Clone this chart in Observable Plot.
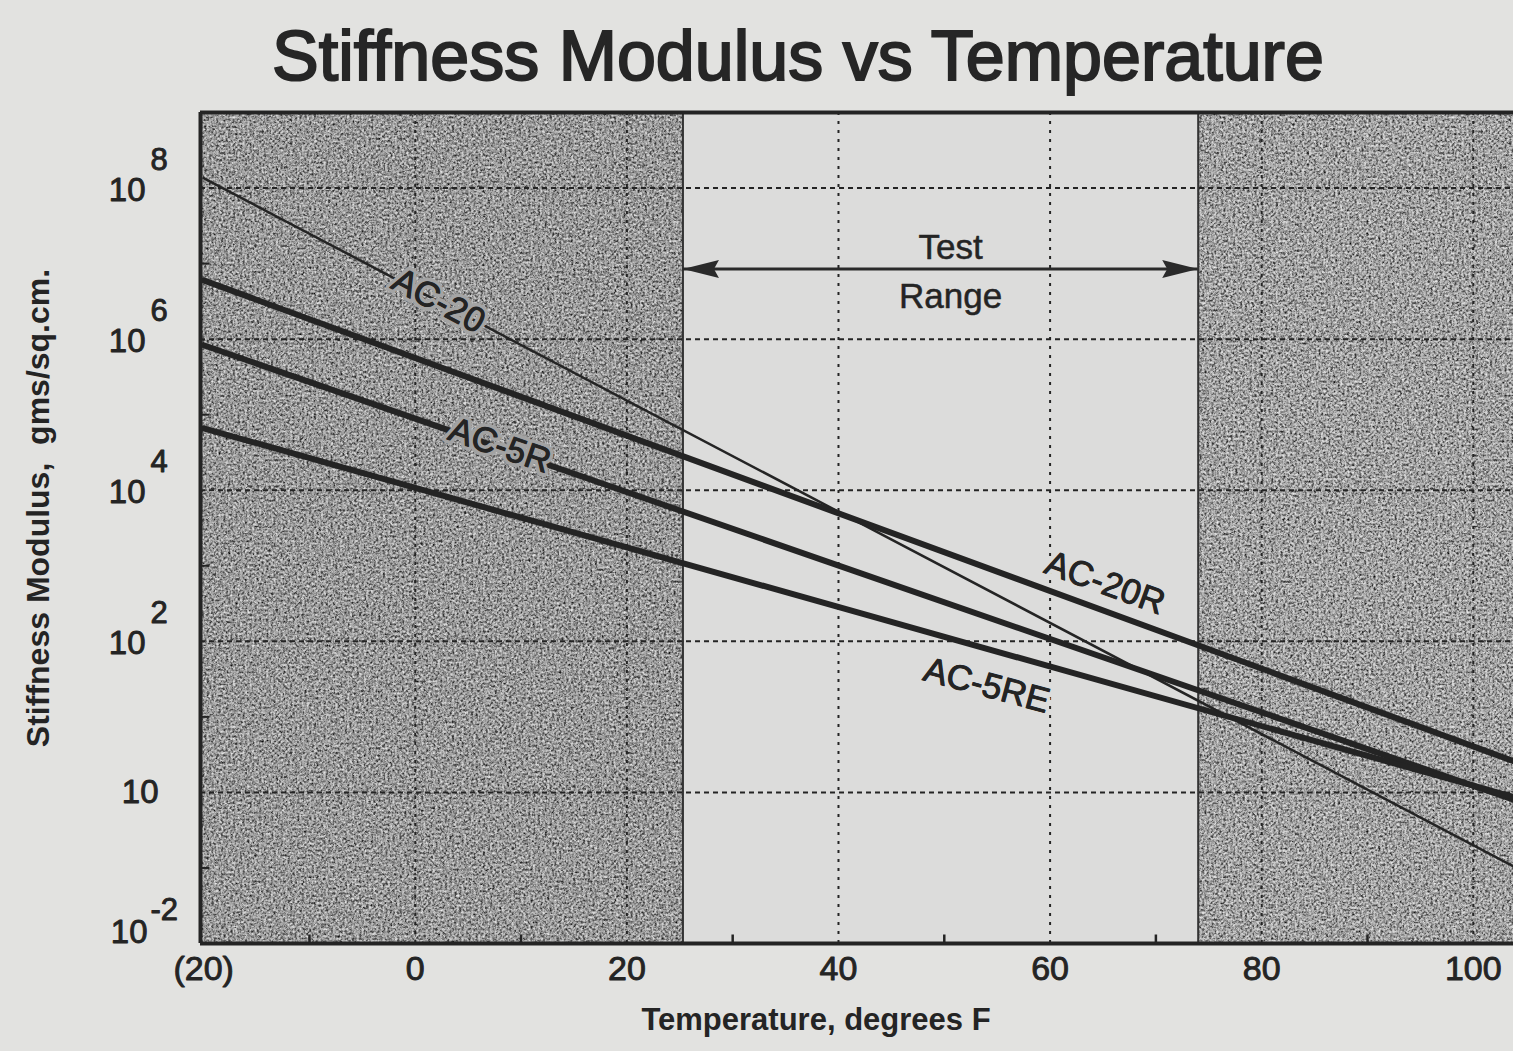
<!DOCTYPE html>
<html>
<head>
<meta charset="utf-8">
<script src="https://cdn.jsdelivr.net/npm/d3@7"></script>
<script src="https://cdn.jsdelivr.net/npm/@observablehq/plot@0.6"></script>
<style>
  html, body { margin: 0; padding: 0; background: #e2e2e0; overflow: hidden; }
  #title {
    position: relative; height: 100px; width: 1513px;
    font-family: "Liberation Sans", Arial, sans-serif; font-size: 70px;
    line-height: 112px; color: #262626; white-space: nowrap;
    -webkit-text-stroke: 2px #262626;
  }
  #title span { position: absolute; left: 272px; top: 0; }
</style>
</head>
<body>
<div id="title"><span>Stiffness Modulus vs Temperature</span></div>
<div id="chart"></div>
<script>
// ---- data ----
const lineNames = ["AC-20", "AC-20R", "AC-5R", "AC-5RE"];
const lineTemps = [-20, 103.8];               // degrees F at the two ends
const ac20  = [1.35e8, 0.105];
const ac20R = [6.0e6, 2.6];
const ac5R  = [8.3e5, 0.8];
const ac5RE = [6.6e4, 0.87];

// label anchor points (same order as lineNames)
const labelTemps  = [2.2, 65.2, 8.0, 54.0];
const labelValues = [3.2e6, 590, 3.9e4, 26];

const testRange = [25.3, 74];                  // unshaded test range, degrees F
const testArrowValue = 8.5e6;
const testText = ["Test", "Range"];

const ticksX = [-20, 0, 20, 40, 60, 80, 100];
const gridXTicks = [0, 20, 40, 60, 80, 100];
const minorX = [-10, 10, 30, 50, 70, 90];
const ticksY = [1e8, 1e6, 1e4, 1e2, 1, 1e-2];
const tickBase = ["10", "10", "10", "10", "10", "10"];
const tickExp = ["8", "6", "4", "2", "", "-2"];
const gridYTicks = [1e8, 1e6, 1e4, 1e2, 1];

const xDomain = [-20.3, 103.8];
const yDomain = [1e-2, 1e9];

// ---- tables built from the arrays ----
const series = [ac20, ac20R, ac5R, ac5RE];
const lineTable = lineNames.flatMap((name, i) =>
  lineTemps.map((t, j) => ({name, temp: t, value: series[i][j]})));
const labelTable = lineNames.map((name, i) => ({name, temp: labelTemps[i], value: labelValues[i]}));
const shaded = [{x1: xDomain[0], x2: testRange[0]}, {x1: testRange[1], x2: xDomain[1]}];
const minorY = d3.scaleLog().domain(yDomain).ticks().filter(v => !ticksY.includes(v));

const ink = "#242424";
const FONT = "'Liberation Sans', Arial, sans-serif";

const vTick = {draw(ctx) { ctx.moveTo(0, 0); ctx.lineTo(0, -9); }};
const hTick = {draw(ctx) { ctx.moveTo(0, 0); ctx.lineTo(9, 0); }};
const headRight = {draw(ctx) { ctx.moveTo(0, 0); ctx.lineTo(-36, -9); ctx.lineTo(-31, 0); ctx.lineTo(-36, 9); ctx.closePath(); }};
const headLeft = {draw(ctx) { ctx.moveTo(0, 0); ctx.lineTo(36, -9); ctx.lineTo(31, 0); ctx.lineTo(36, 9); ctx.closePath(); }};

const labelRotate = [28, 20, 19, 15];
const labelHalo = ["#a4a4a4", "#dcdcdb", "#a2a2a2", "#dcdcdb"];
const thick = {stroke: ink, strokeWidth: 0.9};

const plot = Plot.plot({
  width: 1513,
  height: 951,
  marginTop: 12,
  marginBottom: 108,
  marginLeft: 200,
  marginRight: 0,
  style: {background: "transparent", fontFamily: FONT, color: ink},
  x: {domain: xDomain, axis: null},
  y: {type: "log", domain: yDomain, axis: null},
  marks: [
    Plot.frame({fill: "#dcdcdb", stroke: "none"}),
    Plot.rect(shaded, {x1: "x1", x2: "x2", fill: (d, i) => i === 0 ? "#a8a8a8" : "#b4b4b4"}),
    Plot.gridX(gridXTicks, {stroke: ink, strokeOpacity: 1, strokeWidth: 2, strokeDasharray: "3,6"}),
    Plot.gridY(gridYTicks, {stroke: ink, strokeOpacity: 1, strokeWidth: 2, strokeDasharray: "5,4"}),
    Plot.ruleX(testRange, {stroke: "#333", strokeWidth: 2}),
    // lines
    Plot.line(lineTable.filter(d => d.name === "AC-20"), {x: "temp", y: "value", stroke: ink, strokeWidth: 2.5}),
    Plot.line(lineTable.filter(d => d.name !== "AC-20"), {x: "temp", y: "value", z: "name", stroke: ink, strokeWidth: 6}),
    // line labels (halo, then slightly heavier text on top)
    Plot.text(labelTable, {
      x: "temp", y: "value", text: "name", fontSize: 35, fill: ink,
      rotate: (d, i) => labelRotate[i],
      stroke: (d, i) => labelHalo[i], strokeWidth: 8
    }),
    Plot.text(labelTable, {
      x: "temp", y: "value", text: "name", fontSize: 35, fill: ink,
      rotate: (d, i) => labelRotate[i], ...thick
    }),
    // test range arrow
    Plot.ruleY([testArrowValue], {x1: testRange[0], x2: testRange[1], stroke: "#2a2a2a", strokeWidth: 3}),
    Plot.dot([testArrowValue], {x: testRange[0], y: d => d, symbol: headLeft, fill: "#2a2a2a", stroke: "none"}),
    Plot.dot([testArrowValue], {x: testRange[1], y: d => d, symbol: headRight, fill: "#2a2a2a", stroke: "none"}),
    Plot.text([testText[0]], {x: (testRange[0] + testRange[1]) / 2, y: testArrowValue, text: d => d, dx: 10, dy: -21, fontSize: 35, fill: ink, stroke: ink, strokeWidth: 0.5}),
    Plot.text([testText[1]], {x: (testRange[0] + testRange[1]) / 2, y: testArrowValue, text: d => d, dx: 10, dy: 28, fontSize: 35, fill: ink, stroke: ink, strokeWidth: 0.5}),
    // frame edges
    Plot.ruleX([xDomain[0]], {stroke: ink, strokeWidth: 4}),
    Plot.ruleY([yDomain[0]], {stroke: ink, strokeWidth: 4}),
    Plot.ruleY([yDomain[1]], {stroke: ink, strokeWidth: 4}),
    // minor ticks
    Plot.dot(minorX, {x: d => d, frameAnchor: "bottom", symbol: vTick, stroke: ink, strokeWidth: 2.5, fill: "none"}),
    Plot.dot(minorY, {y: d => d, frameAnchor: "left", symbol: hTick, stroke: ink, strokeWidth: 2, fill: "none"}),
    // x tick labels
    Plot.text(ticksX, {x: d => d, frameAnchor: "bottom", text: d => d < 0 ? `(${-d})` : String(d), dy: 36, fontSize: 34, fill: ink, ...thick}),
    // y tick labels: base "10" and exponent
    Plot.text(ticksY, {y: d => d, frameAnchor: "left", text: (d, i) => tickBase[i], textAnchor: "end", dx: -55, dy: 2, fontSize: 33, fill: ink, ...thick,
      filter: (d, i) => tickExp[i] !== "" && d !== yDomain[0]}),
    Plot.text(ticksY, {y: d => d, frameAnchor: "left", text: (d, i) => tickExp[i], textAnchor: "start", dx: -50, dy: -28, fontSize: 31, fill: ink, ...thick,
      filter: (d, i) => tickExp[i] !== "" && d !== yDomain[0]}),
    Plot.text(ticksY, {y: d => d, frameAnchor: "left", text: (d, i) => tickBase[i], textAnchor: "end", dx: -42, dy: 0, fontSize: 33, fill: ink, ...thick,
      filter: (d, i) => tickExp[i] === ""}),
    Plot.text(ticksY, {y: d => d, frameAnchor: "left", text: (d, i) => tickBase[i], textAnchor: "end", dx: -53, dy: -11, fontSize: 33, fill: ink, ...thick,
      filter: d => d === yDomain[0]}),
    Plot.text(ticksY, {y: d => d, frameAnchor: "left", text: (d, i) => tickExp[i], textAnchor: "start", dx: -50, dy: -33, fontSize: 31, fill: ink, ...thick,
      filter: d => d === yDomain[0]}),
    // axis titles
    Plot.text(["Temperature, degrees F"], {frameAnchor: "bottom", text: d => d, textAnchor: "middle", dx: -41, dy: 86, fontSize: 31, fontWeight: "bold", fill: ink}),
    Plot.text(["Stiffness Modulus,  gms/sq.cm."], {frameAnchor: "left", text: d => d, textAnchor: "middle", rotate: -90, dx: -162, dy: -20, fontSize: 32, fontWeight: "bold", fill: ink})
  ]
});

// grain texture for the shaded bands
const svg = d3.select(plot);
svg.insert("defs", ":first-child").html(`
  <filter id="grain" x="0" y="0" width="1" height="1" color-interpolation-filters="sRGB">
    <feTurbulence type="fractalNoise" baseFrequency="0.42" numOctaves="4" seed="4" result="t"/>
    <feColorMatrix in="t" type="matrix" values="0 0 0 0 0  0 0 0 0 0  0 0 0 0 0  1.8 0 0 0 -0.68" result="dark"/>
    <feColorMatrix in="t" type="matrix" values="0 0 0 0 1  0 0 0 0 1  0 0 0 0 1  0 1.6 0 0 -0.66" result="light"/>
    <feComposite in="dark" in2="SourceGraphic" operator="in" result="d2"/>
    <feComposite in="light" in2="SourceGraphic" operator="in" result="l2"/>
    <feMerge><feMergeNode in="SourceGraphic"/><feMergeNode in="d2"/><feMergeNode in="l2"/></feMerge>
  </filter>`);
svg.selectAll('g[aria-label="rect"] rect').attr("filter", "url(#grain)");

document.getElementById("chart").appendChild(plot);
</script>
</body>
</html>
